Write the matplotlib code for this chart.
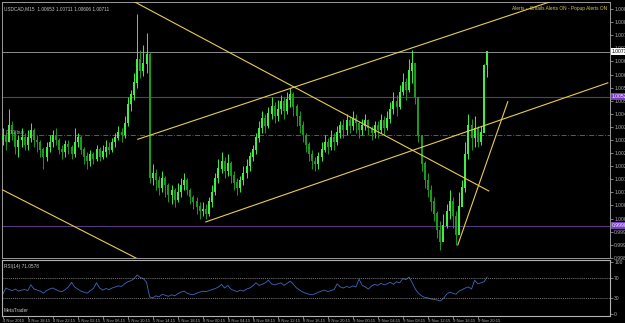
import numpy as np
import matplotlib.pyplot as plt
from matplotlib.transforms import blended_transform_factory

plt.rcParams['font.family'] = ['Liberation Sans Narrow', 'Liberation Sans', 'DejaVu Sans']

# USDCAD M15 candles (drawn every second bar)
closes = [1.0036, 1.0033, 1.0040, 1.0037, 1.0031, 1.0034, 1.0035, 1.0032, 1.0035, 1.0038,
          1.0034, 1.0033, 1.0030, 1.0027, 1.0031, 1.0033, 1.0036, 1.0034, 1.0030, 1.0029,
          1.0032, 1.0031, 1.0028, 1.0033, 1.0035, 1.0030, 1.0027, 1.0025, 1.0028, 1.0026,
          1.0030, 1.0027, 1.0029, 1.0031, 1.0030, 1.0033, 1.0035, 1.0037, 1.0036, 1.0041,
          1.0049, 1.0053, 1.0058, 1.0068, 1.0063, 1.0066, 1.0070, 1.0018, 1.0020, 1.0017,
          1.0014, 1.0018, 1.0015, 1.0011, 1.0013, 1.0009, 1.0012, 1.0015, 1.0017, 1.0013,
          1.0010, 1.0008, 1.0006, 1.0004, 1.0005, 1.0003, 1.0008, 1.0012, 1.0018, 1.0022,
          1.0025, 1.0021, 1.0024, 1.0019, 1.0016, 1.0014, 1.0017, 1.0020, 1.0023, 1.0027,
          1.0030, 1.0035, 1.0039, 1.0043, 1.0040, 1.0045, 1.0048, 1.0044, 1.0047, 1.0050,
          1.0046, 1.0051, 1.0053, 1.0048, 1.0044, 1.0040, 1.0036, 1.0032, 1.0028, 1.0025,
          1.0024, 1.0027, 1.0030, 1.0033, 1.0031, 1.0035, 1.0033, 1.0037, 1.0040, 1.0038,
          1.0042, 1.0040, 1.0043, 1.0041, 1.0038, 1.0040, 1.0042, 1.0039, 1.0037, 1.0040,
          1.0038, 1.0042, 1.0039, 1.0043, 1.0047, 1.0050, 1.0048, 1.0054, 1.0058, 1.0055,
          1.0063, 1.0066, 1.0052, 1.0036, 1.0024, 1.0017, 1.0013, 1.0008, 1.0003, 0.9996,
          0.9991, 0.9998, 1.0004, 1.0008, 1.0002, 0.9994, 1.0006, 1.0014, 1.0028, 1.0040,
          1.0035, 1.0039, 1.0033, 1.0037, 1.00653, 1.00711]
highs = [1.0039, 1.0037, 1.0047, 1.0042, 1.0038, 1.0036, 1.0039, 1.0037, 1.0038, 1.0041,
         1.0039, 1.0036, 1.0034, 1.0031, 1.0033, 1.0036, 1.0038, 1.0039, 1.0035, 1.0032,
         1.0034, 1.0034, 1.0032, 1.0039, 1.0037, 1.0036, 1.0031, 1.0029, 1.0030, 1.0029,
         1.0032, 1.0031, 1.0032, 1.0034, 1.0033, 1.0035, 1.0037, 1.0040, 1.0039, 1.0044,
         1.0052, 1.0055, 1.0062, 1.0087, 1.0072, 1.0074, 1.0079, 1.0071, 1.0024, 1.0022,
         1.0019, 1.0021, 1.0019, 1.0016, 1.0015, 1.0014, 1.0016, 1.0018, 1.0020, 1.0018,
         1.0014, 1.0011, 1.0010, 1.0008, 1.0008, 1.0007, 1.0010, 1.0015, 1.0020, 1.0026,
         1.0029, 1.0027, 1.0028, 1.0025, 1.0021, 1.0018, 1.0019, 1.0023, 1.0026, 1.0029,
         1.0032, 1.0037, 1.0042, 1.0046, 1.0045, 1.0048, 1.0052, 1.0050, 1.0051, 1.0053,
         1.0052, 1.0054, 1.0056, 1.0054, 1.0049, 1.0046, 1.0042, 1.0037, 1.0033, 1.0030,
         1.0027, 1.0029, 1.0033, 1.0036, 1.0035, 1.0038, 1.0037, 1.0040, 1.0042, 1.0043,
         1.0045, 1.0044, 1.0046, 1.0045, 1.0042, 1.0043, 1.0045, 1.0043, 1.0040, 1.0042,
         1.0042, 1.0045, 1.0044, 1.0046, 1.0050, 1.0054, 1.0053, 1.0057, 1.0062, 1.0060,
         1.0068, 1.0072, 1.0066, 1.0052, 1.0036, 1.0025, 1.0020, 1.0015, 1.0010, 1.0004,
         1.0000, 1.0003, 1.0007, 1.0013, 1.0010, 1.0004, 1.0012, 1.0017, 1.0033, 1.0045,
         1.0043, 1.0044, 1.0040, 1.0040, 1.0066, 1.00711]
lows = [1.0032, 1.0030, 1.0033, 1.0034, 1.0028, 1.0027, 1.0031, 1.0030, 1.0030, 1.0033,
        1.0031, 1.0029, 1.0027, 1.0022, 1.0025, 1.0029, 1.0031, 1.0032, 1.0028, 1.0026,
        1.0027, 1.0028, 1.0026, 1.0027, 1.0031, 1.0028, 1.0024, 1.0022, 1.0023, 1.0024,
        1.0025, 1.0025, 1.0026, 1.0027, 1.0028, 1.0029, 1.0031, 1.0034, 1.0033, 1.0035,
        1.0040, 1.0046, 1.0051, 1.0056, 1.0060, 1.0061, 1.0062, 1.0016, 1.0015, 1.0013,
        1.0011, 1.0012, 1.0010, 1.0008, 1.0007, 1.0006, 1.0008, 1.0010, 1.0013, 1.0011,
        1.0007, 1.0005, 1.0003, 1.0001, 1.0002, 1.0001, 1.0002, 1.0006, 1.0011, 1.0016,
        1.0020, 1.0018, 1.0019, 1.0016, 1.0013, 1.0011, 1.0012, 1.0015, 1.0018, 1.0021,
        1.0025, 1.0028, 1.0033, 1.0037, 1.0037, 1.0039, 1.0043, 1.0041, 1.0042, 1.0045,
        1.0043, 1.0045, 1.0048, 1.0044, 1.0040, 1.0037, 1.0033, 1.0029, 1.0025, 1.0022,
        1.0021, 1.0022, 1.0025, 1.0029, 1.0028, 1.0030, 1.0030, 1.0032, 1.0035, 1.0035,
        1.0036, 1.0037, 1.0038, 1.0037, 1.0035, 1.0036, 1.0038, 1.0036, 1.0034, 1.0035,
        1.0035, 1.0037, 1.0036, 1.0038, 1.0041, 1.0045, 1.0044, 1.0047, 1.0053, 1.0051,
        1.0054, 1.0058, 1.0049, 1.0033, 1.0021, 1.0014, 1.0010, 1.0004, 1.0000, 0.9993,
        0.9988, 0.9992, 0.9997, 1.0001, 0.9997, 0.9990, 0.9998, 1.0009, 1.0012, 1.0026,
        1.0030, 1.0031, 1.0031, 1.0032, 1.0038, 1.00606]
first_open = 1.0034

# RSI(14), one value per drawn bar
rsi = [38, 50, 47, 45, 48, 44, 46, 47, 45, 56, 48, 46, 44, 40, 45, 48, 50, 47, 44, 43,
       47, 52, 61, 52, 48, 44, 42, 40, 45, 49, 60, 50, 46, 49, 47, 50, 52, 54, 53, 58,
       62, 64, 68, 75, 70, 68, 61, 33, 31, 35, 33, 38, 36, 34, 37, 35, 39, 42, 44, 40,
       38, 37, 40, 42, 44, 43, 45, 47, 49, 52, 57, 50, 55, 48, 45, 43, 46, 44, 48, 50,
       54, 60, 55, 57, 60, 65, 58, 56, 58, 60, 55, 59, 63, 57, 50, 46, 42, 40, 38, 37,
       39, 42, 44, 46, 43, 45, 47, 58, 52, 50, 53, 51, 54, 52, 67, 55, 52, 48, 54, 57,
       55, 59, 56, 58, 61, 57, 62, 60, 68, 66, 71, 60, 48, 40, 35, 32, 31, 29, 28, 27,
       25, 30, 38, 42, 40, 38, 44, 47, 50, 52, 48, 65, 58, 60, 62, 71.06]

# time axis (bar index of M15 chart)
time_ticks = [0, 16, 32, 48, 64, 80, 96, 112, 128, 144, 160, 176, 192, 208, 224, 240,
              256, 272, 288, 304]
time_labels = ['4 Nov 2010', '4 Nov 18:15', '4 Nov 22:15', '5 Nov 02:15', '5 Nov 06:15',
               '5 Nov 10:15', '5 Nov 14:15', '5 Nov 18:15', '8 Nov 00:15', '8 Nov 04:15',
               '8 Nov 08:15', '8 Nov 12:15', '8 Nov 16:15', '8 Nov 20:15', '9 Nov 00:15',
               '9 Nov 04:15', '9 Nov 08:15', '9 Nov 12:15', '9 Nov 16:15', '9 Nov 20:15']

# trendlines: (bar index, price) end points
trend_x = [[86.4, 350.1], [129.9, 387.2], [83.8, 311.0], [0.0, 88.3], [291.2, 323.2]]
trend_y = [[1.00343, 1.00920], [0.99996, 1.00580], [1.00922, 1.00126],
           [1.00130, 0.99834], [0.99899, 1.00501]]

bid = 1.00711
purple_levels = [1.00522, 0.99980]
order_level = 1.00361
price_ticks = [round(1.00890 - 0.00055 * n, 5) for n in range(20)]

# figure
fig = plt.figure(figsize=(6.25, 3.23), dpi=100, facecolor='black')
ax = fig.add_axes([2 / 625, 1 - 258 / 323, 608 / 625, 256 / 323])
ax2 = fig.add_axes([2 / 625, 1 - 316 / 323, 608 / 625, 56 / 323], sharex=ax)

closes = np.array(closes)
highs = np.array(highs)
lows = np.array(lows)
opens = np.concatenate([[first_open], closes[:-1]])
x = np.arange(len(closes)) * 2

up = closes >= opens
col = np.where(up, '#40f040', '#1c9a1c')
ax.vlines(x, lows, highs, colors=col, lw=0.7, zorder=3)
ax.bar(x, np.abs(closes - opens) + 0.00002, bottom=np.minimum(opens, closes),
       width=1.3, color=col, lw=0, zorder=3)

# levels
ax.axhline(bid, color='#8c8c8c', lw=0.7, zorder=2)
for lv in purple_levels:
    ax.axhline(lv, color='#563a7e', lw=0.8, zorder=2)
ax.axhline(order_level, color='#4f7f4f', lw=0.6, ls=(0, (6, 2, 1, 2)), zorder=2)

for tx, ty in zip(trend_x, trend_y):
    ax.plot(tx, ty, color='#e8cc50', lw=0.8, zorder=4)

ax.set_xlim(-0.5, 388.6)
ax.set_ylim(0.998444, 1.009196)
ax.set_facecolor('black')
ax.yaxis.tick_right()
ax.set_yticks(price_ticks)
ax.set_yticklabels(['%.5f' % v for v in price_ticks])
ax.tick_params(axis='y', colors='#b0b0b0', labelsize=3.6, length=2, width=0.5, pad=1)
ax.tick_params(axis='x', bottom=False, labelbottom=False)
for s in ax.spines.values():
    s.set_color('#9a9a9a')
    s.set_linewidth(0.7)

# price flags on the right axis
tr = blended_transform_factory(ax.transAxes, ax.transData)
ax.text(1.003, bid, '%.5f' % bid, transform=tr, fontsize=3.6, color='black', va='center',
        ha='left', bbox=dict(boxstyle='square,pad=0.15', fc='white', ec='none'), clip_on=False)
for lv in purple_levels:
    ax.text(1.003, lv, '%.5f' % lv, transform=tr, fontsize=3.6, color='white', va='center',
            ha='left', bbox=dict(boxstyle='square,pad=0.15', fc='#7a3cc0', ec='none'),
            clip_on=False)

ax.text(0.006, order_level, '0.10 buy', transform=tr, fontsize=3.4, color='#b0b0b0',
        va='bottom', ha='left')
ax.text(0.003, 0.985, 'USDCAD,M15  1.00653 1.00711 1.00606 1.00711', transform=ax.transAxes,
        fontsize=3.4, color='#c8c8c8', va='top', ha='left')
ax.text(0.995, 0.985, 'Alerts -  Emails Alerts ON - Popup Alerts ON', transform=ax.transAxes,
        fontsize=3.4, color='#d8c860', va='top', ha='right')

# RSI panel
ax2.set_facecolor('black')
ax2.plot(x, rsi, color='#4068b8', lw=0.6)
ax2.axhline(70, color='#a0a0a0', lw=0.5, ls=(0, (1.5, 1.5)))
ax2.axhline(30, color='#a0a0a0', lw=0.5, ls=(0, (1.5, 1.5)))
ax2.set_ylim(-3.8, 103.8)
ax2.yaxis.tick_right()
ax2.set_yticks([0, 30, 70, 100])
ax2.set_yticklabels(['0', '30', '70', '100'])
ax2.tick_params(axis='y', colors='#b0b0b0', labelsize=3.6, length=2, width=0.5, pad=1)
ax2.set_xticks(time_ticks)
ax2.set_xticklabels(time_labels, ha='left')
ax2.tick_params(axis='x', colors='#b0b0b0', labelsize=3.0, length=2, width=0.5, pad=0.5)
for s in ax2.spines.values():
    s.set_color('#b4b4b4')
    s.set_linewidth(0.8)
ax2.text(0.004, 0.93, 'RSI(14) 71.0578', transform=ax2.transAxes, fontsize=3.4,
         color='#c8c8c8', va='top', ha='left')
ax2.text(0.002, 0.05, 'MetaTrader', transform=ax2.transAxes, fontsize=3.4,
         color='#c8c8c8', va='bottom', ha='left')

fig.savefig('out.png', dpi=100, facecolor='black')
